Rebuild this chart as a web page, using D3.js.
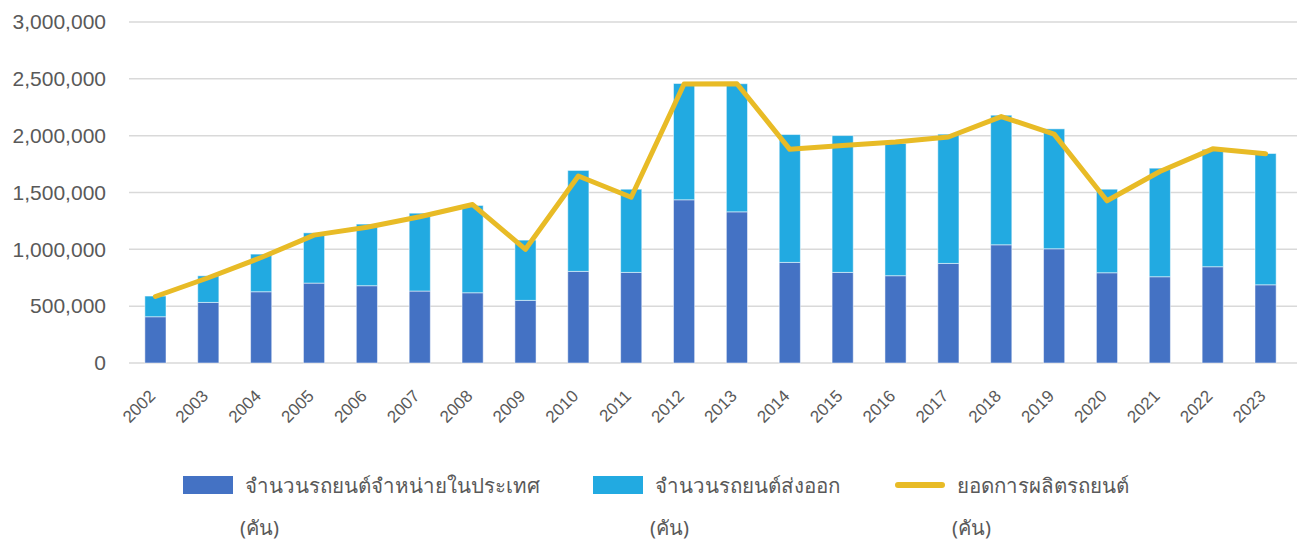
<!DOCTYPE html>
<html>
<head>
<meta charset="utf-8">
<script src="https://cdn.jsdelivr.net/npm/d3@7"></script>
<style>
  body { margin: 0; background: #fff; }
  svg { display: block; font-family: "Liberation Sans", "Noto Sans", sans-serif; }
</style>
</head>
<body>
<div id="chart"></div>
<script>
// Chart data (units: cars)
const years = ["2002","2003","2004","2005","2006","2007","2008","2009","2010","2011","2012",
               "2013","2014","2015","2016","2017","2018","2019","2020","2021","2022","2023"];
const domestic = [407000, 533000, 627000, 703000, 680000, 633000, 618000, 551000, 806000, 797000, 1436000,
                  1330000, 885000, 797000, 768000, 876000, 1040000, 1005000, 794000, 759000, 847000, 688000];
const exported = [182000, 234000, 331000, 442000, 542000, 685000, 768000, 530000, 888000, 732000, 1023000,
                  1127000, 1125000, 1204000, 1163000, 1137000, 1140000, 1055000, 735000, 955000, 1033000, 1155000];
const production = [585000, 750000, 928000, 1125000, 1194000, 1287000, 1394000, 1000000, 1645000, 1458000, 2454000,
                    2457000, 1880000, 1913000, 1944000, 1988000, 2168000, 2014000, 1427000, 1685000, 1884000, 1841000];
const yTicks = [0, 500000, 1000000, 1500000, 2000000, 2500000, 3000000];
const legendLabels = ["จำนวนรถยนต์จำหน่ายในประเทศ", "จำนวนรถยนต์ส่งออก", "ยอดการผลิตรถยนต์"];
const unitLabel = "(คัน)";

const width = 1297, height = 543;
const colors = { domestic: "#4472C4", exported: "#22AAE1", line: "#E8BB26", grid: "#D9D9D9", text: "#595959" };

const svg = d3.select("#chart").append("svg")
    .attr("width", width)
    .attr("height", height);

const x = d3.scaleBand().domain(years).range([129, 1292]).paddingInner(0.6).paddingOuter(0.3);
const y = d3.scaleLinear().domain([0, 3000000]).range([363, 22]);

// Gridlines
svg.append("g").selectAll("line")
    .data(yTicks)
    .enter().append("line")
    .attr("x1", 129).attr("x2", width)
    .attr("y1", d => y(d)).attr("y2", d => y(d))
    .attr("stroke", colors.grid)
    .attr("stroke-width", 1.5);

// Y axis labels
const yAxis = svg.append("g")
    .attr("transform", "translate(106,0)")
    .call(d3.axisLeft(y).tickValues(yTicks).tickSize(0).tickPadding(0).tickFormat(d3.format(",")));
yAxis.select(".domain").remove();
yAxis.selectAll("text")
    .attr("fill", colors.text)
    .attr("font-size", "21px")
    .attr("font-family", "Liberation Sans, sans-serif");

// Stacked bars
const rows = years.map((yr, i) => ({ year: yr, domestic: domestic[i], exported: exported[i] }));
const stack = d3.stack().keys(["domestic", "exported"])(rows);

svg.append("g").selectAll("g")
    .data(stack)
    .enter().append("g")
    .attr("fill", d => colors[d.key])
    .selectAll("rect")
    .data(d => d)
    .enter().append("rect")
    .attr("x", d => x(d.data.year))
    .attr("width", x.bandwidth())
    .attr("y", d => y(d[1]))
    .attr("height", d => y(d[0]) - y(d[1]))
    .attr("stroke", "#ffffff")
    .attr("stroke-opacity", 0.5)
    .attr("stroke-width", 1);

// Production line
const line = d3.line()
    .x((d, i) => x(years[i]) + x.bandwidth() / 2)
    .y(d => y(d));

svg.append("path")
    .datum(production)
    .attr("d", line)
    .attr("fill", "none")
    .attr("stroke", colors.line)
    .attr("stroke-width", 5)
    .attr("stroke-linejoin", "round")
    .attr("stroke-linecap", "round");

// X axis labels, rotated
svg.append("g").selectAll("text")
    .data(years)
    .enter().append("text")
    .attr("transform", d => `translate(${x(d) + x.bandwidth() / 2 + 1},397) rotate(-45)`)
    .attr("text-anchor", "end")
    .attr("fill", colors.text)
    .attr("font-size", "17px")
    .text(d => d);

// Legend
const legendX = [183, 593, 895];
const legend = svg.append("g").attr("font-family", "Noto Sans, DejaVu Sans, sans-serif");

legend.append("rect").attr("x", legendX[0]).attr("y", 476).attr("width", 50).attr("height", 18).attr("fill", colors.domestic);
legend.append("rect").attr("x", legendX[1]).attr("y", 476).attr("width", 50).attr("height", 18).attr("fill", colors.exported);
legend.append("line")
    .attr("x1", legendX[2] + 3).attr("x2", legendX[2] + 47)
    .attr("y1", 485).attr("y2", 485)
    .attr("stroke", colors.line).attr("stroke-width", 6).attr("stroke-linecap", "round");

legend.selectAll(".lbl")
    .data(legendLabels)
    .enter().append("text")
    .attr("class", "lbl")
    .attr("x", (d, i) => legendX[i] + 62)
    .attr("y", 493)
    .attr("fill", colors.text)
    .attr("font-size", "20.5px")
    .text(d => d);

legend.selectAll(".unit")
    .data(legendX)
    .enter().append("text")
    .attr("class", "unit")
    .attr("x", d => d + 57)
    .attr("y", 535)
    .attr("fill", colors.text)
    .attr("font-size", "20px")
    .text(unitLabel);
</script>
</body>
</html>
